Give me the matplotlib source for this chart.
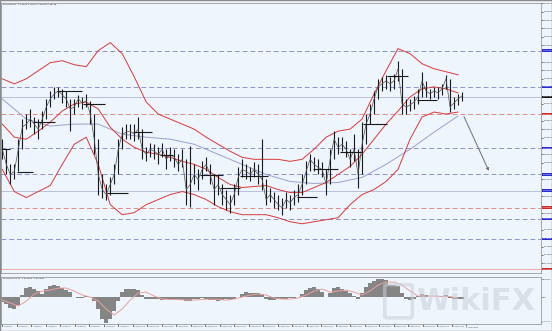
import numpy as np
import matplotlib.pyplot as plt
from matplotlib.transforms import blended_transform_factory
from matplotlib.patches import Rectangle, FancyBboxPatch

# EURUSD H1 bars (one entry per bar)
close = [1.18430, 1.18340, 1.18280, 1.18298, 1.18430, 1.18562, 1.18580, 1.18610, 1.18580, 1.18550,
         1.18610, 1.18682, 1.18730, 1.18760, 1.18778, 1.18754, 1.18730, 1.18670, 1.18682, 1.18730,
         1.18706, 1.18718, 1.18640, 1.18490, 1.18280, 1.18190, 1.18160, 1.18220, 1.18280, 1.18430,
         1.18520, 1.18532, 1.18538, 1.18520, 1.18550, 1.18430, 1.18400, 1.18430, 1.18418, 1.18400,
         1.18430, 1.18370, 1.18400, 1.18382, 1.18340, 1.18370, 1.18190, 1.18220, 1.18280, 1.18250,
         1.18310, 1.18340, 1.18280, 1.18190, 1.18220, 1.18160, 1.18130, 1.18100, 1.18160, 1.18262,
         1.18310, 1.18298, 1.18280, 1.18310, 1.18280, 1.18250, 1.18130, 1.18160, 1.18130, 1.18100,
         1.18082, 1.18130, 1.18112, 1.18142, 1.18160, 1.18220, 1.18298, 1.18370, 1.18340, 1.18322,
         1.18310, 1.18220, 1.18370, 1.18490, 1.18442, 1.18460, 1.18430, 1.18370, 1.18430, 1.18280,
         1.18460, 1.18580, 1.18640, 1.18730, 1.18802, 1.18820, 1.18838, 1.18820, 1.18838, 1.18910,
         1.18700, 1.18682, 1.18694, 1.18712, 1.18742, 1.18838, 1.18778, 1.18760, 1.18778, 1.18766,
         1.18790, 1.18850, 1.18682, 1.18706, 1.18730, 1.18748]
high = [1.18490, 1.18400, 1.18340, 1.18340, 1.18490, 1.18610, 1.18640, 1.18670, 1.18622, 1.18610,
        1.18658, 1.18730, 1.18778, 1.18802, 1.18802, 1.18790, 1.18778, 1.18730, 1.18730, 1.18754,
        1.18742, 1.18760, 1.18700, 1.18610, 1.18430, 1.18280, 1.18220, 1.18262, 1.18340, 1.18490,
        1.18562, 1.18580, 1.18580, 1.18580, 1.18622, 1.18550, 1.18442, 1.18466, 1.18460, 1.18442,
        1.18466, 1.18430, 1.18442, 1.18430, 1.18400, 1.18430, 1.18340, 1.18448, 1.18340, 1.18310,
        1.18358, 1.18382, 1.18340, 1.18250, 1.18280, 1.18220, 1.18190, 1.18160, 1.18220, 1.18322,
        1.18370, 1.18340, 1.18322, 1.18352, 1.18340, 1.18490, 1.18190, 1.18202, 1.18178, 1.18160,
        1.18142, 1.18178, 1.18160, 1.18190, 1.18220, 1.18280, 1.18358, 1.18400, 1.18382, 1.18370,
        1.18352, 1.18310, 1.18430, 1.18538, 1.18502, 1.18502, 1.18478, 1.18430, 1.18520, 1.18370,
        1.18592, 1.18640, 1.18700, 1.18778, 1.18850, 1.18862, 1.18874, 1.18862, 1.18880, 1.18958,
        1.18820, 1.18730, 1.18730, 1.18748, 1.18790, 1.18892, 1.18820, 1.18790, 1.18802, 1.18802,
        1.18820, 1.18874, 1.18790, 1.18742, 1.18760, 1.18772]
low = [1.18370, 1.18280, 1.18220, 1.18250, 1.18370, 1.18490, 1.18550, 1.18562, 1.18520, 1.18490,
       1.18562, 1.18640, 1.18694, 1.18730, 1.18742, 1.18706, 1.18682, 1.18538, 1.18640, 1.18682,
       1.18670, 1.18682, 1.18580, 1.18400, 1.18160, 1.18142, 1.18130, 1.18178, 1.18220, 1.18310,
       1.18460, 1.18490, 1.18490, 1.18478, 1.18490, 1.18370, 1.18358, 1.18382, 1.18370, 1.18340,
       1.18382, 1.18310, 1.18358, 1.18322, 1.18298, 1.18322, 1.18100, 1.18088, 1.18220, 1.18190,
       1.18262, 1.18298, 1.18220, 1.18100, 1.18160, 1.18100, 1.18070, 1.18052, 1.18100, 1.18202,
       1.18262, 1.18250, 1.18238, 1.18262, 1.18220, 1.18190, 1.18100, 1.18118, 1.18082, 1.18070,
       1.18040, 1.18082, 1.18070, 1.18100, 1.18118, 1.18160, 1.18250, 1.18322, 1.18298, 1.18280,
       1.18262, 1.18160, 1.18280, 1.18430, 1.18400, 1.18418, 1.18382, 1.18322, 1.18358, 1.18202,
       1.18340, 1.18520, 1.18580, 1.18670, 1.18760, 1.18778, 1.18790, 1.18778, 1.18790, 1.18850,
       1.18640, 1.18640, 1.18658, 1.18670, 1.18700, 1.18760, 1.18742, 1.18730, 1.18742, 1.18730,
       1.18754, 1.18790, 1.18652, 1.18670, 1.18694, 1.18718]

# Bollinger bands, read every 3rd bar
band_idx = list(range(0, 115, 3))
bb_upper = [1.18850, 1.18820, 1.18850, 1.18898, 1.18946, 1.18958, 1.18934, 1.18922, 1.19018, 1.19066,
            1.19000, 1.18862, 1.18712, 1.18640, 1.18610, 1.18580, 1.18550, 1.18502, 1.18460, 1.18418,
            1.18382, 1.18370, 1.18370, 1.18370, 1.18358, 1.18370, 1.18430, 1.18502, 1.18538, 1.18550,
            1.18610, 1.18760, 1.18898, 1.19030, 1.19000, 1.18940, 1.18910, 1.18892, 1.18874]
bb_mid = [1.18580, 1.18502, 1.18490, 1.18538, 1.18592, 1.18658, 1.18700, 1.18712, 1.18670, 1.18562,
          1.18490, 1.18442, 1.18412, 1.18400, 1.18382, 1.18358, 1.18340, 1.18310, 1.18262, 1.18220,
          1.18202, 1.18208, 1.18214, 1.18190, 1.18172, 1.18172, 1.18202, 1.18232, 1.18280, 1.18328,
          1.18400, 1.18490, 1.18580, 1.18658, 1.18742, 1.18790, 1.18802, 1.18790, 1.18766]
bb_lower = [1.18310, 1.18178, 1.18142, 1.18178, 1.18214, 1.18340, 1.18460, 1.18502, 1.18340, 1.18100,
            1.18040, 1.18052, 1.18100, 1.18130, 1.18160, 1.18178, 1.18160, 1.18130, 1.18088, 1.18058,
            1.18040, 1.18040, 1.18040, 1.18022, 1.17998, 1.17986, 1.17998, 1.18010, 1.18022, 1.18100,
            1.18160, 1.18190, 1.18238, 1.18310, 1.18490, 1.18622, 1.18652, 1.18640, 1.18652]

# slow moving average, read every 6th bar
ma_idx = list(range(0, 115, 6))
ma_slow = [1.18730, 1.18610, 1.18568, 1.18580, 1.18580, 1.18520, 1.18502, 1.18490, 1.18460, 1.18400,
           1.18340, 1.18280, 1.18238, 1.18226, 1.18232, 1.18262, 1.18340, 1.18430, 1.18532, 1.18628]

# horizontal levels
blue_levels = [1.19018, 1.18802, 1.18436, 1.18280, 1.18016, 1.17896]
red_levels = [1.18640, 1.18082]
bid_level = 1.18742
solid_level = 1.18184
ask_level = 1.17716

# short black marker segments (bar from, bar to, price)
seg_start = [-0.5, 3.75, 7.75, 13.75, 20.25, 26.25, 32.75, 39.5, 49.5, 54.5, 59.5,
             73.75, 77.75, 84.5, 90.25, 96.25, 103.75]
seg_end = [2, 7.75, 13.25, 20, 25.75, 31.5, 37.5, 42.75, 55.25, 59.5, 66.5,
           78.75, 84, 90, 96.25, 101.5, 108.75]
seg_price = [1.18430, 1.18292, 1.18592, 1.18778, 1.18700, 1.18172, 1.18532, 1.18394, 1.18274,
             1.18202, 1.18268, 1.18148, 1.18310, 1.18412, 1.18580, 1.18868, 1.18724]

# forecast arrow (bar, price)
arrow_x = [115.2, 122]
arrow_y = [1.18640, 1.18286]

# MACD histogram and signal, in points (1e-5)
macd_hist = [-45, -63, -99, -108, -72, 18, 81, 90, 72, 54,
             27, 72, 99, 108, 99, 81, 63, 45, 0, -9,
             -9, 9, 0, -36, -108, -198, -234, -198, -126, -36,
             45, 72, 72, 72, 63, 18, -18, -18, -18, -18,
             -27, -18, -27, -18, -27, -27, -36, -36, -18, -18,
             -9, -18, -27, -27, -36, -27, -18, -27, -18, 0,
             27, 45, 36, 36, 36, 27, -18, -27, -27, -18,
             -18, -18, -9, -9, 0, 27, 63, 81, 90, 72,
             45, 0, 36, 81, 90, 72, 54, 36, 9, -18,
             36, 90, 126, 144, 162, 162, 153, 108, 108, 99,
             36, -18, -27, -18, 9, 27, 18, 0, 0, 0,
             9, 18, -9, -18, -18, -18]
sig_idx = list(range(0, 115, 2))
macd_signal = [-27, -54, -81, -36, 27, 54, 63, 81, 81, 54,
               18, 0, -36, -108, -162, -108, -27, 36, 45, 9,
               -18, -22, -22, -27, -27, -22, -18, -22, -27, -18,
               0, 18, 27, 18, -9, -18, -18, -9, 18, 54,
               72, 45, 54, 63, 45, 18, 54, 108, 135, 135,
               108, 54, 9, 9, 9, 5, 5, -9]

time_labels = ["2 Jul 2021", "2 Jul 16:00", "5 Jul 08:00", "6 Jul 00:00", "6 Jul 16:00",
               "7 Jul 08:00", "8 Jul 00:00", "8 Jul 16:00", "9 Jul 08:00", "12 Jul 00:00",
               "12 Jul 16:00", "13 Jul 08:00", "14 Jul 00:00", "14 Jul 16:00", "15 Jul 08:00",
               "16 Jul 00:00", "16 Jul 16:00", "19 Jul 08:00", "20 Jul 00:00", "20 Jul 16:00",
               "21 Jul 08:00", "22 Jul 00:00", "22 Jul 16:00", "23 Jul 08:00", "26 Jul 00:00",
               "26 Jul 16:00", "27 Jul 08:00", "28 Jul 00:00", "28 Jul 16:00", "29 Jul 08:00",
               "30 Jul 00:00", "30 Jul 16:00", "2 Aug 08:00"]

bg = "#eef5fc"
fs = 1.6

fig = plt.figure(figsize=(5.52, 3.31), dpi=100, facecolor=bg)
ax = fig.add_axes([0.002, 0.175, 0.978, 0.815], facecolor=bg)
mx = fig.add_axes([0.002, 0.021, 0.978, 0.142], facecolor=bg)

x = np.arange(len(close))
opn = np.r_[close[0], close[:-1]]
top = np.maximum(high, opn)
bot = np.minimum(low, opn)

# levels
for p in blue_levels:
    ax.axhline(p, color="#8a94c8", lw=0.7, ls=(0, (5, 3)))
for p in red_levels:
    ax.axhline(p, color="#e08a8a", lw=0.7, ls=(0, (5, 3)))
ax.axhline(bid_level, color="#b8c0dc", lw=0.7)
ax.axhline(solid_level, color="#b8c0dc", lw=0.7)
ax.axhline(ask_level, color="#f0a8a8", lw=0.7)

# indicators
ax.plot(ma_idx, ma_slow, color="#9aa2cc", lw=0.7)
ax.plot(band_idx, bb_upper, color="#d83a3a", lw=0.7)
ax.plot(band_idx, bb_mid, color="#d83a3a", lw=0.7)
ax.plot(band_idx, bb_lower, color="#d83a3a", lw=0.7)

# price bars
ax.vlines(x, bot, top, color="#1a1a1a", lw=0.8)
ax.plot(x, close, color="#505050", lw=0.5)
ax.hlines(seg_price, seg_start, seg_end, color="#1a1a1a", lw=0.8)

ax.annotate("", xy=(arrow_x[1], arrow_y[1]), xytext=(arrow_x[0], arrow_y[0]),
            arrowprops=dict(arrowstyle="-|>", color="#707070", lw=0.7, mutation_scale=4))

ax.set_xlim(-0.3, 134.75)
ax.set_ylim(1.17692, 1.19300)
ax.set_xticks([])
ax.yaxis.tick_right()

# coloured price tags on the right scale; plain labels that sit under a tag are dropped
tags = [(p, "#2a2ad0") for p in blue_levels] + [(p, "#d02a2a") for p in red_levels]
tags += [(bid_level, "#101010"), (solid_level, "#2a2ad0"), (ask_level, "#d02a2a")]
yt = np.arange(1.1770, 1.19301, 0.0005)
yt = [v for v in yt if all(abs(v - p) > 0.00028 for p, _ in tags)]
ax.set_yticks(yt)
ax.set_yticklabels([f"{v:.5f}" for v in yt], fontsize=fs, color="#303030")
ax.tick_params(axis="y", length=1.2, width=0.4, pad=0.8)
for s in ax.spines.values():
    s.set_color("#9a9a9a")
    s.set_linewidth(0.6)

tr = blended_transform_factory(ax.transAxes, ax.transData)
for p, c in tags:
    ax.text(1.003, p, f"{p:.5f}", transform=tr, fontsize=fs, color="white", va="center",
            ha="left", clip_on=False,
            bbox=dict(boxstyle="square,pad=0.3", fc=c, ec="none"))

ax.text(0.003, 0.997, f"EURUSD,H1  {opn[-1]:.5f} {high[-1]:.5f} {low[-1]:.5f} {close[-1]:.5f}",
        transform=ax.transAxes, fontsize=fs, va="top", ha="left", color="#202020")

# MACD panel
mx.bar(x, np.array(macd_hist) * 1e-5, width=1.0, color="#858585", lw=0)
mx.plot(sig_idx, np.array(macd_signal) * 1e-5, color="#eaa0a0", lw=0.7)
mx.set_xlim(-0.3, 134.75)
mx.set_ylim(-0.00243, 0.00180)
mx.yaxis.tick_right()
mx.set_yticks([0.00160, 0.0, -0.00222])
mx.set_yticklabels(["0.001760", "0.00", "-0.00227"], fontsize=1.3, color="#303030")
mx.tick_params(axis="y", length=0.8, width=0.4, pad=0.4)
mx.set_xticks(np.arange(len(time_labels)) * 3.625)
mx.set_xticklabels(time_labels, fontsize=1.45, color="#303030", ha="left")
mx.tick_params(axis="x", length=1.2, width=0.4, pad=0.5)
for s in mx.spines.values():
    s.set_color("#9a9a9a")
    s.set_linewidth(0.6)
mx.text(0.003, 0.985, f"MACD(12,26,9) {macd_hist[-1] * 1e-5:.6f} {macd_signal[-1] * 1e-5:.6f}",
        transform=mx.transAxes, fontsize=fs, va="top", ha="left", color="#202020")

# watermark
fig.text(0.862, 0.09, "WikiFX", fontsize=22, weight="bold", color="#c8d0da", alpha=0.55,
         ha="center", va="center")
fig.patches.append(FancyBboxPatch((0.702, 0.045), 0.04, 0.09, transform=fig.transFigure,
                                  boxstyle="round,pad=0.005", fill=False, ec="#c8d0da",
                                  lw=2.5, alpha=0.55))

fig.patches.append(Rectangle((0, 0), 1, 1, transform=fig.transFigure, fill=False,
                             ec="#8a8a8a", lw=1.0))

fig.savefig("out.png", dpi=100, facecolor=bg)
